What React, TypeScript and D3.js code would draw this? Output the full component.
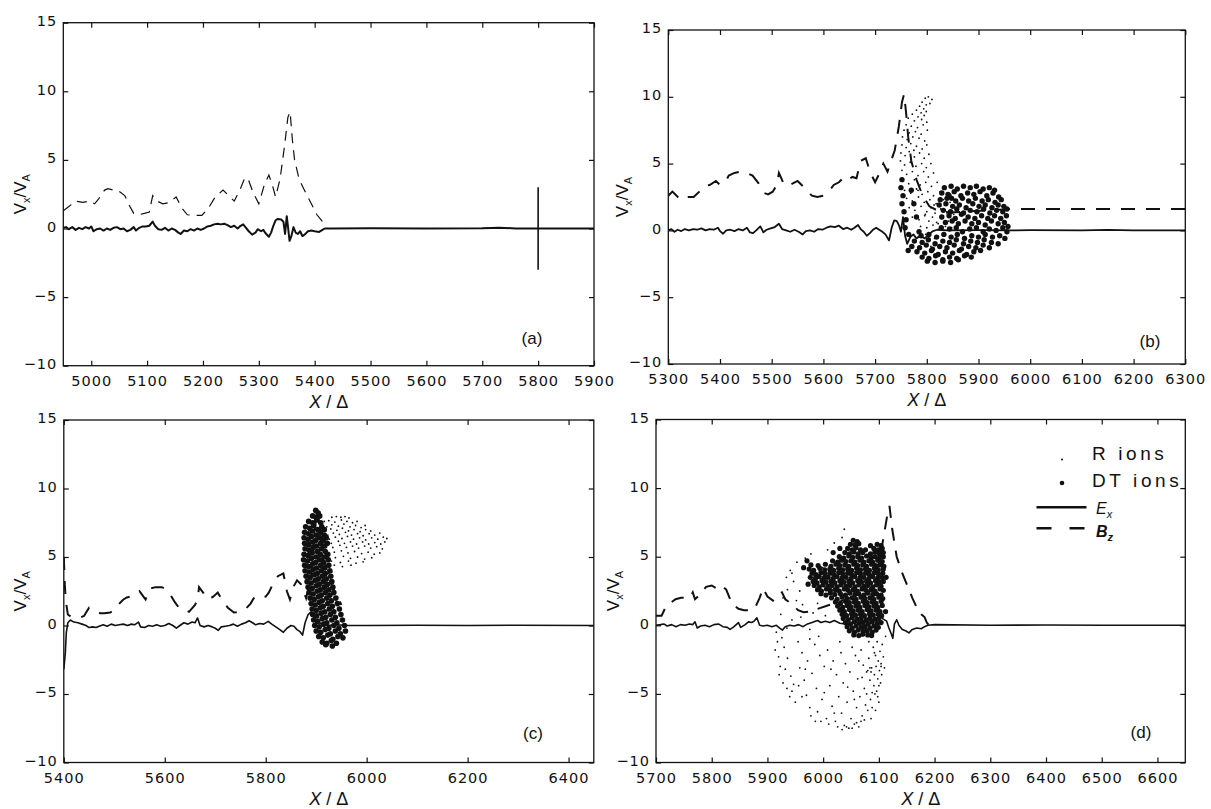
import React, { useEffect, useRef } from 'react';
import * as d3 from 'd3';

type Pt = [number, number];

const W = 1211;
const H = 809;

// ---- ticks ----
const yTicks = [-10, -5, 0, 5, 10, 15];
const xTicksA = [5000, 5100, 5200, 5300, 5400, 5500, 5600, 5700, 5800, 5900];
const xTicksB = [5300, 5400, 5500, 5600, 5700, 5800, 5900, 6000, 6100, 6200, 6300];
const xTicksC = [5400, 5600, 5800, 6000, 6200, 6400];
const xTicksD = [5700, 5800, 5900, 6000, 6100, 6200, 6300, 6400, 6500, 6600];

// ---- panel (a) ----
const exA: Pt[] = [
  [4950, 0.05], [4955, 0.1], [4960, -0.05], [4966, 0.1], [4972, -0.1], [4978, 0.05], [4984, -0.05], [4990, 0.1],
  [4996, 0.0], [5000, 0.15], [5004, -0.2], [5010, -0.05], [5016, 0.0], [5022, -0.15], [5028, 0.0], [5034, -0.1],
  [5040, 0.05], [5046, 0.1], [5052, -0.05], [5058, 0.0], [5064, -0.2], [5070, -0.1], [5076, 0.1], [5080, -0.15],
  [5086, 0.05], [5092, 0.15], [5098, 0.15], [5104, 0.2], [5110, 0.5], [5114, 0.2], [5120, -0.05], [5126, -0.1],
  [5132, 0.05], [5138, -0.15], [5144, 0.0], [5150, -0.1], [5156, -0.3], [5160, -0.4], [5166, -0.15], [5172, -0.2],
  [5178, -0.05], [5184, -0.15], [5190, 0.0], [5196, -0.1], [5202, 0.0], [5208, 0.15], [5214, 0.2], [5220, 0.3],
  [5226, 0.35], [5232, 0.3], [5238, 0.35], [5244, 0.25], [5250, 0.1], [5256, 0.2], [5262, 0.0], [5266, 0.15],
  [5272, 0.3], [5276, 0.1], [5282, -0.2], [5288, -0.45], [5294, -0.3], [5298, -0.05], [5304, -0.2], [5308, -0.1],
  [5312, -0.35], [5318, -0.6], [5322, -0.3], [5326, 0.2], [5330, 0.6], [5334, 0.7], [5340, 0.65], [5344, 0.5],
  [5347, -0.4], [5350, 0.9], [5352, 0.2], [5355, -0.9], [5358, -0.6], [5362, 0.1], [5366, -0.3], [5370, -0.4],
  [5374, -0.2], [5378, -0.55], [5382, -0.45], [5388, -0.2], [5394, -0.15], [5400, -0.2], [5408, -0.25], [5414, -0.1],
  [5418, 0.0], [5430, 0.0], [5500, 0.02], [5600, 0.0], [5700, 0.02], [5730, 0.06], [5760, 0.0], [5900, 0.0],
];
const bzA: Pt[] = [
  [4950, 1.3], [4960, 1.6], [4972, 2.0], [4985, 1.9], [4998, 2.0], [5006, 1.8], [5014, 2.2], [5024, 2.8],
  [5030, 2.9], [5040, 2.8], [5050, 2.7], [5060, 2.4], [5068, 1.7], [5076, 1.1], [5085, 1.0], [5095, 1.1],
  [5104, 1.2], [5110, 2.4], [5118, 2.0], [5128, 1.8], [5140, 1.9], [5152, 2.3], [5162, 1.5], [5172, 1.0],
  [5185, 0.95], [5198, 0.95], [5210, 1.5], [5222, 2.3], [5236, 2.8], [5246, 2.4], [5256, 2.0], [5266, 2.8],
  [5274, 3.6], [5280, 3.7], [5290, 2.6], [5300, 1.8], [5310, 3.2], [5318, 3.9], [5324, 3.2], [5330, 2.3],
  [5338, 3.6], [5346, 6.0], [5352, 8.1], [5356, 8.5], [5360, 6.5], [5364, 5.0], [5372, 3.6], [5384, 2.6],
  [5394, 1.8], [5404, 1.0], [5414, 0.5],
];
const markA: Pt[] = [[5800, -3], [5800, 3]];

// ---- panel (b) ----
const exB: Pt[] = [
  [5300, 0.0], [5306, 0.1], [5312, -0.1], [5318, 0.05], [5325, -0.05], [5332, 0.1], [5340, 0.0], [5348, 0.1],
  [5356, 0.05], [5364, 0.15], [5372, 0.0], [5380, 0.1], [5388, 0.05], [5396, 0.2], [5400, -0.05], [5406, -0.25],
  [5412, 0.0], [5420, 0.05], [5428, -0.05], [5436, 0.1], [5444, 0.0], [5452, 0.2], [5458, -0.15], [5464, -0.2],
  [5470, 0.0], [5478, 0.3], [5484, -0.15], [5490, 0.05], [5498, 0.15], [5506, 0.25], [5514, 0.5], [5520, 0.1],
  [5528, 0.0], [5536, -0.1], [5544, 0.05], [5552, -0.1], [5560, -0.3], [5566, -0.05], [5574, 0.0], [5582, -0.1],
  [5590, 0.1], [5598, 0.05], [5606, 0.2], [5614, 0.3], [5622, 0.25], [5630, 0.35], [5638, 0.1], [5646, 0.2],
  [5654, 0.05], [5660, 0.2], [5667, 0.4], [5672, 0.1], [5678, -0.1], [5684, -0.4], [5690, -0.2], [5696, 0.05],
  [5702, 0.2], [5708, 0.05], [5714, -0.1], [5720, -0.3], [5727, -0.75], [5732, 0.2], [5737, 0.75], [5742, 0.7],
  [5746, 0.4], [5750, -0.1], [5754, 1.0], [5758, -0.4], [5762, -1.0], [5768, -0.5], [5774, -0.3], [5780, -0.6],
  [5788, -0.4], [5796, -0.6], [5804, -0.3], [5812, -0.05], [5820, 0.05], [5840, 0.0], [5900, 0.02], [5960, 0.0],
  [6000, 0.02], [6100, 0.0], [6150, 0.04], [6200, 0.0], [6300, 0.0],
];
const bzB: Pt[] = [
  [5300, 2.6], [5308, 2.9], [5316, 2.6], [5323, 2.3], [5335, 2.5], [5349, 2.5], [5360, 2.9], [5368, 3.3],
  [5380, 3.4], [5392, 3.7], [5400, 3.4], [5410, 3.6], [5417, 4.1], [5428, 4.3], [5440, 4.4], [5452, 4.3],
  [5463, 4.1], [5475, 3.5], [5485, 2.8], [5493, 2.7], [5502, 2.9], [5510, 3.4], [5514, 4.3], [5522, 3.6],
  [5530, 3.3], [5540, 3.5], [5550, 3.7], [5558, 3.4], [5566, 3.0], [5578, 2.6], [5588, 2.5], [5600, 2.6],
  [5610, 2.9], [5620, 3.4], [5630, 3.6], [5640, 4.0], [5648, 3.8], [5656, 4.0], [5664, 3.9], [5672, 5.2],
  [5682, 5.4], [5690, 4.4], [5700, 3.6], [5710, 4.4], [5716, 5.0], [5724, 4.4], [5730, 5.1], [5738, 6.0],
  [5746, 7.8], [5752, 9.6], [5756, 10.2], [5760, 8.8], [5764, 7.0], [5770, 5.2], [5780, 3.8], [5792, 2.6],
  [5805, 1.8], [5830, 1.3], [5870, 1.4], [5920, 1.5], [5960, 1.6], [6000, 1.6], [6100, 1.6], [6200, 1.6], [6300, 1.6],
];
const rIonsB: Pt[] = [
  [5797, 9.9], [5803, 10.0], [5791, 9.6], [5799, 9.4], [5786, 9.3], [5794, 9.1], [5780, 9.0], [5789, 8.8], [5799, 8.9],
  [5772, 8.7], [5783, 8.5], [5795, 8.6], [5764, 8.4], [5776, 8.2], [5790, 8.3], [5800, 8.1], [5760, 7.9], [5770, 7.8],
  [5782, 7.7], [5793, 7.9], [5756, 7.5], [5766, 7.3], [5778, 7.4], [5789, 7.2], [5801, 7.5], [5753, 7.0], [5762, 6.8],
  [5773, 7.0], [5785, 6.9], [5796, 6.7], [5752, 6.4], [5760, 6.2], [5769, 6.5], [5780, 6.3], [5791, 6.1], [5800, 6.4],
  [5750, 5.8], [5758, 5.6], [5766, 5.9], [5776, 5.5], [5786, 5.8], [5795, 5.4], [5804, 5.7], [5749, 5.2], [5757, 4.9],
  [5768, 5.1], [5779, 4.8], [5790, 5.0], [5799, 4.7], [5808, 5.0], [5752, 4.5], [5761, 4.2], [5772, 4.4], [5783, 4.1],
  [5794, 4.4], [5803, 4.0], [5813, 4.3], [5754, 3.7], [5765, 3.5], [5776, 3.8], [5787, 3.4], [5798, 3.6], [5809, 3.3],
  [5820, 3.6], [5757, 3.0], [5769, 2.8], [5780, 3.1], [5791, 2.7], [5802, 2.9], [5813, 2.6], [5826, 2.9], [5761, 2.4],
  [5772, 2.2], [5784, 2.5], [5795, 2.1], [5806, 2.3], [5818, 2.0], [5832, 2.3], [5845, 2.1], [5766, 1.7], [5777, 1.5],
  [5789, 1.8], [5800, 1.4], [5808, 1.7], [5816, 1.3], [5827, 1.6], [5839, 1.4], [5852, 1.2], [5772, 1.0], [5785, 0.8],
  [5796, 1.1], [5804, 0.7], [5811, 1.0], [5819, 0.6], [5829, 0.9], [5842, 0.7], [5857, 0.9], [5788, 0.3], [5800, 0.2],
  [5812, 0.4], [5824, 0.1], [5836, 0.3], [5848, 0.2], [5783, -0.5], [5798, -0.3], [5815, -0.6], [5792, -1.0],
  [5808, -1.2], [5806, 9.5], [5810, 9.8], [5775, 6.0], [5783, 3.0], [5797, 1.2], [5814, 1.9], [5822, 0.5],
];
const dtIonsB: Pt[] = [
  [5834, 3.2], [5847, 3.3], [5859, 3.1], [5871, 3.3], [5884, 3.2], [5896, 3.3], [5909, 3.1], [5921, 3.2], [5931, 3.0],
  [5829, 2.8], [5841, 2.7], [5853, 2.9], [5866, 2.6], [5879, 2.8], [5891, 2.7], [5903, 2.9], [5916, 2.6], [5928, 2.8], [5939, 2.5],
  [5826, 2.3], [5839, 2.4], [5856, 2.2], [5869, 2.4], [5881, 2.2], [5894, 2.4], [5907, 2.2], [5919, 2.3], [5932, 2.1], [5944, 2.3],
  [5824, 1.9], [5837, 2.0], [5850, 1.8], [5863, 1.9], [5876, 1.7], [5889, 2.0], [5901, 1.8], [5913, 1.9], [5926, 1.7], [5938, 1.9], [5949, 1.8],
  [5832, 1.5], [5846, 1.4], [5858, 1.6], [5871, 1.3], [5884, 1.5], [5897, 1.4], [5910, 1.6], [5922, 1.3], [5935, 1.5], [5947, 1.4], [5955, 1.6],
  [5829, 1.0], [5843, 1.1], [5855, 0.9], [5867, 1.2], [5880, 1.0], [5893, 0.9], [5906, 1.1], [5918, 0.9], [5931, 1.1], [5943, 0.9], [5954, 1.1],
  [5836, 0.6], [5849, 0.7], [5861, 0.5], [5874, 0.7], [5887, 0.5], [5900, 0.6], [5913, 0.4], [5925, 0.7], [5938, 0.5], [5950, 0.6], [5957, 0.3],
  [5828, 0.2], [5844, 0.1], [5857, 0.2], [5869, -0.1], [5883, 0.1], [5896, 0.2], [5909, -0.1], [5921, 0.1], [5934, 0.0], [5947, 0.2], [5955, -0.1],
  [5789, -0.4], [5804, -0.3], [5819, -0.5], [5833, -0.3], [5847, -0.5], [5859, -0.3], [5873, -0.6], [5887, -0.4], [5900, -0.5], [5913, -0.3], [5927, -0.5], [5941, -0.4], [5951, -0.6],
  [5776, -0.8], [5791, -0.9], [5803, -0.7], [5816, -1.0], [5831, -0.8], [5844, -0.9], [5857, -0.7], [5871, -1.0], [5885, -0.8], [5898, -0.9], [5911, -0.7], [5925, -0.9], [5938, -1.0],
  [5771, -1.2], [5786, -1.3], [5799, -1.1], [5811, -1.4], [5825, -1.2], [5839, -1.3], [5853, -1.1], [5867, -1.4], [5881, -1.2], [5895, -1.3], [5909, -1.1], [5921, -1.3],
  [5781, -1.6], [5796, -1.7], [5809, -1.5], [5822, -1.8], [5836, -1.6], [5850, -1.7], [5863, -1.5], [5877, -1.8], [5891, -1.6], [5904, -1.5],
  [5791, -2.0], [5804, -2.1], [5817, -1.9], [5831, -2.2], [5844, -2.0], [5858, -2.1], [5873, -1.9], [5886, -2.0],
  [5801, -2.3], [5816, -2.4], [5831, -2.3], [5846, -2.4], [5861, -2.2],
  [5752, 3.8], [5750, 3.2], [5754, 2.6], [5752, 2.0], [5756, 1.4], [5760, 0.8], [5758, 0.2], [5765, -0.3], [5770, 3.0],
  [5775, 2.0], [5780, 1.0], [5785, -0.1], [5764, -1.5], [5843, 2.6], [5848, 2.4],
];

// ---- panel (c) ----
const exC: Pt[] = [
  [5400, -3.2], [5403, -2.0], [5405, -0.5], [5408, 0.2], [5413, 0.4], [5420, 0.25], [5428, 0.2], [5436, 0.1],
  [5444, 0.0], [5450, -0.15], [5457, -0.1], [5464, -0.15], [5470, -0.05], [5478, 0.05], [5486, -0.05], [5494, 0.1],
  [5502, 0.0], [5510, 0.05], [5518, 0.1], [5526, 0.0], [5534, 0.1], [5540, 0.05], [5548, 0.25], [5552, -0.1],
  [5560, -0.15], [5568, 0.0], [5576, -0.05], [5584, 0.05], [5592, -0.05], [5600, 0.0], [5608, 0.15], [5616, 0.0],
  [5623, -0.2], [5630, 0.0], [5638, 0.2], [5646, 0.1], [5654, 0.25], [5660, 0.2], [5665, 0.55], [5670, 0.0],
  [5678, -0.1], [5686, 0.0], [5694, -0.1], [5700, -0.2], [5706, -0.35], [5712, -0.1], [5720, -0.05], [5728, 0.0],
  [5736, 0.1], [5744, -0.05], [5752, 0.1], [5760, 0.2], [5767, 0.35], [5774, 0.2], [5780, 0.05], [5788, 0.15],
  [5796, 0.1], [5805, 0.3], [5812, 0.1], [5820, -0.1], [5828, -0.3], [5835, -0.5], [5842, -0.2], [5850, 0.0],
  [5856, -0.05], [5862, -0.3], [5868, -0.45], [5873, -0.7], [5878, 0.2], [5884, 0.8], [5890, 1.0], [5900, 0.3],
  [5920, 0.0], [5940, 0.05], [5964, 0.0], [6000, 0.0], [6100, 0.02], [6200, 0.0], [6300, 0.02], [6450, 0.0],
];
const bzC: Pt[] = [
  [5400, 5.0], [5401, 4.0], [5402, 3.0], [5404, 1.8], [5408, 0.8], [5414, 0.65], [5422, 0.6], [5430, 0.55],
  [5440, 0.7], [5450, 1.3], [5457, 1.2], [5465, 1.0], [5472, 0.9], [5480, 0.9], [5492, 0.95], [5500, 1.1],
  [5510, 1.6], [5518, 1.9], [5525, 2.05], [5540, 2.2], [5550, 2.5], [5556, 2.2], [5562, 1.9], [5570, 2.7],
  [5582, 2.8], [5594, 2.8], [5605, 2.6], [5612, 2.2], [5620, 1.7], [5630, 1.2], [5640, 1.15], [5648, 1.0],
  [5660, 1.5], [5665, 1.9], [5668, 2.8], [5676, 2.4], [5686, 1.9], [5696, 2.1], [5705, 2.4], [5715, 1.8],
  [5725, 1.3], [5737, 0.95], [5748, 1.0], [5760, 1.2], [5770, 1.6], [5778, 2.1], [5790, 2.2], [5800, 2.1],
  [5806, 2.4], [5814, 3.0], [5824, 3.6], [5835, 3.8], [5842, 2.5], [5848, 1.9], [5856, 2.9], [5862, 3.3],
  [5870, 3.0], [5880, 2.0], [5890, 3.5], [5896, 6.5], [5902, 8.6], [5906, 7.5], [5912, 5.0], [5930, 3.0], [5950, 1.5],
];
const rIonsC: Pt[] = [
  [5931, 7.9], [5940, 7.95], [5949, 7.9], [5957, 7.95], [5965, 7.85],
  [5916, 7.6], [5925, 7.65], [5937, 7.55], [5950, 7.7], [5961, 7.6], [5972, 7.5], [5981, 7.6],
  [5910, 7.3], [5921, 7.2], [5931, 7.35], [5944, 7.25], [5955, 7.4], [5967, 7.2], [5978, 7.3], [5989, 7.15], [5997, 7.3],
  [5908, 7.0], [5919, 6.9], [5929, 7.05], [5941, 6.95], [5952, 7.1], [5964, 6.9], [5975, 7.0], [5987, 6.85], [5998, 7.0], [6008, 6.9],
  [5911, 6.7], [5923, 6.6], [5934, 6.75], [5946, 6.65], [5958, 6.8], [5970, 6.6], [5982, 6.7], [5993, 6.55], [6005, 6.7], [6016, 6.6], [6026, 6.75],
  [5913, 6.4], [5926, 6.3], [5938, 6.45], [5951, 6.35], [5962, 6.5], [5974, 6.3], [5986, 6.4], [5998, 6.25], [6010, 6.4], [6022, 6.3], [6033, 6.45], [6040, 6.35],
  [5915, 6.1], [5930, 6.0], [5944, 6.15], [5956, 6.0], [5968, 6.1], [5980, 5.95], [5992, 6.1], [6004, 5.95], [6016, 6.05], [6028, 5.95], [6036, 6.1],
  [5918, 5.8], [5933, 5.7], [5947, 5.85], [5960, 5.7], [5972, 5.8], [5984, 5.65], [5996, 5.8], [6008, 5.65], [6020, 5.75], [6031, 5.6],
  [5921, 5.4], [5936, 5.35], [5950, 5.45], [5963, 5.3], [5976, 5.4], [5990, 5.25], [6003, 5.35], [6015, 5.2], [6026, 5.3],
  [5923, 5.0], [5938, 4.95], [5954, 5.05], [5968, 4.9], [5982, 5.0], [5996, 4.85], [6010, 4.95],
  [5930, 4.7], [5948, 4.6], [5964, 4.7], [5979, 4.55], [5993, 4.65],
  [5936, 4.4], [5952, 4.3], [5969, 4.4], [5925, 3.8], [5931, 3.9], [5922, 3.4], [5928, 3.6],
];
const dtIonsC: Pt[] = [
  [5899, 8.4], [5904, 8.2],
  [5893, 8.0], [5900, 7.9], [5907, 8.0],
  [5885, 7.6], [5893, 7.5], [5901, 7.7], [5909, 7.5],
  [5879, 7.2], [5887, 7.1], [5895, 7.3], [5903, 7.0], [5911, 7.2], [5916, 7.0],
  [5877, 6.8], [5885, 6.7], [5893, 6.9], [5900, 6.6], [5908, 6.8], [5916, 6.6],
  [5876, 6.4], [5884, 6.3], [5891, 6.5], [5899, 6.2], [5907, 6.4], [5914, 6.2], [5920, 6.4],
  [5877, 6.0], [5885, 5.9], [5893, 6.1], [5901, 5.8], [5909, 6.0], [5917, 5.8], [5922, 6.0],
  [5878, 5.6], [5886, 5.5], [5894, 5.7], [5902, 5.4], [5910, 5.6], [5918, 5.4],
  [5876, 5.2], [5884, 5.1], [5892, 5.3], [5900, 5.0], [5908, 5.2], [5916, 5.0], [5923, 5.2],
  [5875, 4.8], [5883, 4.7], [5891, 4.9], [5899, 4.6], [5907, 4.8], [5915, 4.6], [5924, 4.8],
  [5877, 4.4], [5885, 4.3], [5893, 4.5], [5901, 4.2], [5909, 4.4], [5917, 4.2], [5925, 4.4],
  [5878, 4.0], [5886, 3.9], [5894, 4.1], [5902, 3.8], [5910, 4.0], [5918, 3.8], [5927, 4.0],
  [5880, 3.6], [5888, 3.5], [5896, 3.7], [5904, 3.4], [5912, 3.6], [5920, 3.4], [5929, 3.6],
  [5882, 3.2], [5890, 3.1], [5898, 3.3], [5906, 3.0], [5914, 3.2], [5922, 3.0], [5931, 3.2],
  [5884, 2.8], [5892, 2.7], [5900, 2.9], [5908, 2.6], [5916, 2.8], [5925, 2.6], [5933, 2.8],
  [5886, 2.4], [5894, 2.3], [5902, 2.5], [5910, 2.2], [5918, 2.4], [5927, 2.2], [5935, 2.4],
  [5888, 2.0], [5896, 1.9], [5904, 2.1], [5912, 1.8], [5921, 2.0], [5930, 1.8], [5939, 2.0],
  [5890, 1.6], [5898, 1.5], [5906, 1.7], [5914, 1.4], [5923, 1.6], [5932, 1.4], [5942, 1.6],
  [5892, 1.2], [5900, 1.1], [5908, 1.3], [5917, 1.0], [5926, 1.2], [5935, 1.0], [5946, 1.2],
  [5893, 0.8], [5901, 0.7], [5910, 0.9], [5919, 0.6], [5928, 0.8], [5938, 0.6], [5949, 0.8],
  [5895, 0.4], [5903, 0.3], [5912, 0.5], [5921, 0.2], [5931, 0.4], [5941, 0.2], [5952, 0.4],
  [5897, 0.0], [5906, -0.1], [5915, 0.1], [5925, -0.2], [5935, 0.0], [5945, -0.2], [5956, 0.0],
  [5900, -0.4], [5909, -0.5], [5918, -0.3], [5928, -0.6], [5938, -0.4], [5948, -0.6], [5958, -0.4],
  [5905, -0.8], [5914, -0.9], [5923, -0.7], [5933, -1.0], [5943, -0.8], [5953, -0.9],
  [5912, -1.2], [5921, -1.3], [5930, -1.1], [5940, -1.3], [5919, -1.4], [5932, -1.5],
];

// ---- panel (d) ----
const exD: Pt[] = [
  [5700, 0.0], [5708, 0.05], [5714, 0.1], [5720, -0.05], [5728, 0.05], [5736, -0.1], [5744, 0.05], [5752, 0.0],
  [5760, 0.1], [5766, 0.05], [5770, 0.25], [5774, -0.2], [5780, -0.05], [5788, 0.0], [5796, -0.1], [5804, 0.05],
  [5812, 0.1], [5820, -0.1], [5828, -0.15], [5833, -0.3], [5840, -0.1], [5848, 0.2], [5852, -0.15], [5860, 0.05],
  [5866, 0.25], [5872, 0.2], [5876, 0.3], [5881, 0.55], [5886, 0.0], [5892, -0.05], [5900, 0.0], [5908, -0.1],
  [5916, 0.0], [5922, -0.2], [5927, -0.35], [5932, -0.1], [5940, 0.0], [5948, -0.05], [5956, 0.05], [5964, -0.1],
  [5972, 0.1], [5980, 0.2], [5986, 0.3], [5990, 0.35], [5996, 0.2], [6004, 0.3], [6012, 0.2], [6020, 0.35],
  [6030, 0.15], [6040, 0.1], [6060, 0.2], [6080, 0.3], [6095, 0.5], [6103, 0.65], [6108, 0.45], [6114, 0.3],
  [6118, -0.2], [6122, -0.6], [6125, -0.95], [6128, 0.1], [6132, 0.4], [6136, 0.0], [6142, -0.3], [6148, -0.4],
  [6154, -0.55], [6160, -0.3], [6168, -0.2], [6176, -0.25], [6182, -0.1], [6188, 0.0], [6200, 0.05], [6300, 0.0],
  [6400, 0.02], [6500, 0.0], [6650, 0.0],
];
const bzD: Pt[] = [
  [5700, 0.7], [5710, 0.7], [5717, 1.3], [5725, 1.6], [5735, 1.9], [5745, 2.0], [5755, 2.0], [5762, 2.1],
  [5766, 2.4], [5770, 1.9], [5780, 2.3], [5790, 2.8], [5800, 2.9], [5808, 2.7], [5818, 2.9], [5826, 2.6],
  [5836, 1.6], [5848, 1.2], [5858, 1.1], [5868, 1.1], [5878, 1.3], [5886, 2.0], [5892, 2.7], [5900, 2.1],
  [5910, 1.8], [5920, 2.2], [5926, 2.4], [5932, 1.9], [5945, 1.5], [5955, 1.1], [5965, 0.95], [5975, 1.0],
  [6050, 2.0], [6080, 3.0], [6098, 4.2], [6108, 6.3], [6115, 8.0], [6119, 8.7], [6124, 7.0], [6132, 5.0],
  [6142, 3.8], [6152, 2.8], [6160, 2.0], [6168, 1.3], [6176, 0.8], [6182, 0.6], [6186, 0.2], [6190, 0.0],
];
const rIonsD: Pt[] = [
  [5924, 0.8], [5928, 2.0], [5934, 3.5], [5941, 4.0], [5947, 3.2], [5953, 4.6], [5958, 2.5], [5963, 1.5], [5968, 4.9],
  [5974, 3.0], [5984, 3.6], [5990, 1.6], [5999, 4.2], [6008, 5.5], [6014, 3.2], [6020, 6.0], [6026, 4.6], [6034, 6.4],
  [6038, 7.0], [6045, 5.2], [5944, 3.8], [5936, 2.6], [5952, 1.8], [5978, 5.2], [5960, 0.6], [5982, 0.9], [6004, 0.7], [6012, 2.3],
  [5916, -0.5], [5918, -1.2], [5914, -1.8], [5920, -2.3], [5923, -3.0], [5921, -3.6], [5928, -4.2], [5935, -4.6],
  [5940, -5.2], [5944, -4.8], [5950, -5.6], [5947, -4.3], [5926, -0.9], [5930, -1.6], [5936, -2.4], [5932, -3.2], [5942, -3.7],
  [5955, -1.2], [5962, -2.0], [5958, -3.1], [5966, -4.0], [5970, -5.1], [5976, -6.0], [5972, -2.6], [5980, -3.5],
  [5985, -1.4], [5988, -4.6], [5990, -6.3], [5994, -2.2], [5998, -5.4], [6002, -3.0], [6006, -6.8], [6008, -1.8],
  [6012, -4.4], [6016, -5.9], [6018, -2.6], [6022, -7.0], [6024, -3.6], [6028, -5.2], [6030, -1.2], [6033, -6.4],
  [6036, -4.2], [6038, -7.3], [6040, -2.8], [6043, -5.6], [6046, -7.5], [6048, -3.4], [6050, -6.8], [6052, -1.6],
  [6054, -4.8], [6056, -7.2], [6058, -2.2], [6060, -6.0], [6062, -3.9], [6064, -7.4], [6066, -5.2], [6068, -1.8],
  [6070, -6.6], [6072, -2.9], [6074, -4.6], [6076, -5.8], [6078, -3.4], [6080, -6.2], [6082, -2.4], [6084, -4.0],
  [6085, -5.4], [6087, -3.1], [6088, -6.0], [6090, -1.6], [6091, -4.4], [6092, -3.6], [6093, -5.0], [6094, -2.2],
  [6095, -3.0], [6096, -4.8], [6097, -1.2], [6098, -3.9], [6099, -2.6], [6100, -5.6], [6101, -3.3], [6102, -1.9],
  [6103, -4.2], [6104, -2.8], [6105, -3.6], [6106, -1.4], [6108, -2.3], [6110, -3.1], [6112, -0.8],
  [5996, -7.0], [6010, -7.2], [6026, -7.4], [6034, -7.6], [6042, -7.4], [6052, -7.5], [6060, -7.1], [6068, -7.0], [6074, -6.9],
  [5962, -5.2], [5978, -6.6], [5986, -7.0], [5968, -3.2], [5956, -4.4], [5976, -1.0], [5992, -0.8], [6002, -4.9],
  [6014, -3.2], [6020, -6.4], [6032, -2.0], [6044, -4.5], [6056, -5.4], [6064, -2.6], [6070, -3.8], [6078, -5.0],
  [6086, -6.8], [6082, -1.2], [6094, -6.2], [6100, -4.4], [6088, -4.9], [6092, -2.0], [6098, -5.2], [6104, -3.0],
  [6080, -3.3], [6084, -3.1], [6086, -3.4], [5976, -0.3], [5944, 0.4], [5935, -0.2],
];
const dtIonsD: Pt[] = [
  [6054, 6.2], [6061, 6.1],
  [6049, 5.9], [6057, 5.85], [6064, 5.95], [6097, 5.9], [6104, 5.8],
  [6044, 5.6], [6052, 5.5], [6059, 5.65], [6067, 5.5], [6091, 5.6], [6099, 5.5], [6106, 5.6],
  [6039, 5.3], [6047, 5.2], [6055, 5.35], [6063, 5.2], [6071, 5.3], [6085, 5.2], [6093, 5.35], [6101, 5.2], [6108, 5.3],
  [6029, 5.0], [6037, 4.9], [6046, 5.05], [6053, 4.95], [6062, 5.0], [6069, 4.9], [6078, 5.05], [6086, 4.9], [6093, 5.0], [6101, 4.9], [6108, 5.0],
  [6017, 4.7], [6026, 4.6], [6033, 4.75], [6041, 4.65], [6050, 4.7], [6057, 4.6], [6066, 4.75], [6073, 4.6], [6082, 4.7], [6089, 4.6], [6098, 4.75], [6106, 4.65],
  [5978, 4.4], [5991, 4.35], [6004, 4.45], [6014, 4.3], [6023, 4.45], [6030, 4.35], [6039, 4.4], [6046, 4.3], [6055, 4.45], [6062, 4.35], [6071, 4.4], [6078, 4.3], [6087, 4.45], [6094, 4.35], [6103, 4.4], [6109, 4.3],
  [5975, 4.1], [5983, 4.0], [5994, 4.15], [6003, 4.05], [6012, 4.1], [6019, 4.0], [6028, 4.15], [6035, 4.05], [6044, 4.1], [6051, 4.0], [6060, 4.15], [6067, 4.05], [6076, 4.1], [6083, 4.0], [6092, 4.15], [6099, 4.05], [6108, 4.1],
  [5980, 3.8], [5987, 3.7], [5996, 3.85], [6003, 3.75], [6012, 3.8], [6019, 3.7], [6028, 3.85], [6035, 3.75], [6044, 3.8], [6051, 3.7], [6060, 3.85], [6067, 3.75], [6076, 3.8], [6083, 3.7], [6092, 3.85], [6099, 3.75], [6107, 3.8],
  [5977, 3.5], [5986, 3.4], [5993, 3.55], [6002, 3.45], [6009, 3.5], [6018, 3.4], [6025, 3.55], [6034, 3.45], [6041, 3.5], [6050, 3.4], [6057, 3.55], [6066, 3.45], [6073, 3.5], [6082, 3.4], [6089, 3.55], [6098, 3.45], [6105, 3.5],
  [5982, 3.2], [5989, 3.1], [5998, 3.25], [6005, 3.15], [6014, 3.2], [6021, 3.1], [6030, 3.25], [6037, 3.15], [6046, 3.2], [6053, 3.1], [6062, 3.25], [6069, 3.15], [6078, 3.2], [6085, 3.1], [6094, 3.25], [6101, 3.15], [6108, 3.2],
  [5984, 2.9], [5993, 2.8], [6000, 2.95], [6009, 2.85], [6016, 2.9], [6025, 2.8], [6032, 2.95], [6041, 2.85], [6048, 2.9], [6057, 2.8], [6064, 2.95], [6073, 2.85], [6080, 2.9], [6089, 2.8], [6096, 2.95], [6104, 2.85],
  [5990, 2.6], [5997, 2.5], [6006, 2.65], [6013, 2.55], [6022, 2.6], [6029, 2.5], [6038, 2.65], [6045, 2.55], [6054, 2.6], [6061, 2.5], [6070, 2.65], [6077, 2.55], [6086, 2.6], [6093, 2.5], [6102, 2.65], [6108, 2.55],
  [5996, 2.3], [6005, 2.2], [6013, 2.35], [6021, 2.25], [6031, 2.3], [6040, 2.2], [6048, 2.35], [6057, 2.25], [6064, 2.3], [6073, 2.2], [6080, 2.35], [6089, 2.25], [6096, 2.3], [6104, 2.2],
  [6015, 2.0], [6025, 1.9], [6034, 2.05], [6043, 1.95], [6052, 2.0], [6059, 1.9], [6068, 2.05], [6075, 1.95], [6084, 2.0], [6091, 1.9], [6100, 2.05], [6107, 1.95],
  [6022, 1.7], [6031, 1.6], [6040, 1.75], [6047, 1.65], [6056, 1.7], [6063, 1.6], [6072, 1.75], [6079, 1.65], [6088, 1.7], [6095, 1.6], [6104, 1.75],
  [6026, 1.4], [6035, 1.3], [6043, 1.45], [6050, 1.35], [6059, 1.4], [6066, 1.3], [6075, 1.45], [6082, 1.35], [6091, 1.4], [6098, 1.3], [6106, 1.45],
  [6030, 1.1], [6038, 1.0], [6047, 1.15], [6054, 1.05], [6063, 1.1], [6070, 1.0], [6079, 1.15], [6086, 1.05], [6095, 1.1], [6102, 1.0],
  [6034, 0.8], [6042, 0.7], [6051, 0.85], [6058, 0.75], [6067, 0.8], [6074, 0.7], [6083, 0.85], [6090, 0.75], [6099, 0.8], [6105, 0.7],
  [6036, 0.5], [6045, 0.4], [6052, 0.55], [6061, 0.45], [6068, 0.5], [6077, 0.4], [6084, 0.55], [6093, 0.45], [6100, 0.5],
  [6040, 0.2], [6049, 0.1], [6056, 0.25], [6065, 0.15], [6072, 0.2], [6081, 0.1], [6088, 0.25], [6097, 0.15], [6104, 0.2],
  [6043, -0.1], [6052, -0.2], [6059, -0.05], [6068, -0.15], [6075, -0.1], [6084, -0.2], [6091, -0.05], [6099, -0.15],
  [6047, -0.4], [6056, -0.5], [6063, -0.35], [6072, -0.45], [6079, -0.4], [6088, -0.5], [6095, -0.35],
  [6055, -0.7], [6064, -0.75], [6071, -0.65], [6080, -0.7], [6087, -0.75],
  [5971, 4.7], [5973, 3.0], [5965, 4.2], [6030, 5.6], [6018, 5.3], [6085, 5.8], [6076, 5.5], [6112, 1.0], [6113, 3.5],
];

const panels = [
  { key: 'a', tag: '(a)', xDomain: [4950, 5900], xTicks: xTicksA, ex: exA, bz: bzA, mark: markA, rIons: [] as Pt[], dtIons: [] as Pt[] },
  { key: 'b', tag: '(b)', xDomain: [5300, 6300], xTicks: xTicksB, ex: exB, bz: bzB, mark: [] as Pt[], rIons: rIonsB, dtIons: dtIonsB },
  { key: 'c', tag: '(c)', xDomain: [5400, 6450], xTicks: xTicksC, ex: exC, bz: bzC, mark: [] as Pt[], rIons: rIonsC, dtIons: dtIonsC },
  { key: 'd', tag: '(d)', xDomain: [5700, 6650], xTicks: xTicksD, ex: exD, bz: bzD, mark: [] as Pt[], rIons: rIonsD, dtIons: dtIonsD },
];

// pixel layout of each panel box (kept apart from the data)
const layout: Record<string, any> = {
  a: { l: 63.3, r: 594, t: 22.7, b: 365.7, tagX: 532, tagY: 344, yLabX: 20, ex: 2, bz: 1.2, dash: '10,7', dtR: 2.4 },
  b: { l: 668.3, r: 1185.3, t: 30, b: 364, tagX: 1150, tagY: 347, yLabX: 622, ex: 1.8, bz: 2, dash: '14,11', dtR: 2.7 },
  c: { l: 63.8, r: 593.8, t: 420, b: 762.5, tagX: 533, tagY: 739, yLabX: 20, ex: 1.6, bz: 2, dash: '13,11', dtR: 2.8 },
  d: { l: 656, r: 1185.3, t: 419.5, b: 762.5, tagX: 1141, tagY: 738, yLabX: 613, ex: 1.6, bz: 2, dash: '13,10', dtR: 2.6 },
};

const TICK_FONT = '"DejaVu Sans", sans-serif';
const LABEL_FONT = '"Liberation Sans", Arial, sans-serif';

const App = () => {
  const svgRef = useRef<SVGSVGElement>(null);

  const drawPanel = (svg: any, p: any) => {
    const box = layout[p.key];
    const x = d3.scaleLinear().domain(p.xDomain).range([box.l, box.r]);
    const y = d3.scaleLinear().domain([-10, 15]).range([box.b, box.t]);

    const g = svg.append('g');
    const clipId = 'clip-' + p.key;
    g.append('clipPath').attr('id', clipId)
      .append('rect')
      .attr('x', box.l).attr('y', box.t)
      .attr('width', box.r - box.l).attr('height', box.b - box.t);

    const plot = g.append('g').attr('clip-path', `url(#${clipId})`);
    const line = d3.line<Pt>().x(d => x(d[0])).y(d => y(d[1]));

    plot.append('path')
      .datum(p.ex)
      .attr('d', line)
      .attr('fill', 'none')
      .attr('stroke', '#111')
      .attr('stroke-width', box.ex)
      .attr('stroke-linejoin', 'round');

    plot.append('path')
      .datum(p.bz)
      .attr('d', line)
      .attr('fill', 'none')
      .attr('stroke', '#111')
      .attr('stroke-width', box.bz)
      .attr('stroke-dasharray', box.dash);

    if (p.mark.length) {
      plot.append('path')
        .datum(p.mark)
        .attr('d', line)
        .attr('fill', 'none')
        .attr('stroke', '#111')
        .attr('stroke-width', 1.6);
    }

    plot.selectAll('.r-ion')
      .data(p.rIons)
      .enter()
      .append('circle')
      .attr('class', 'r-ion')
      .attr('cx', (d: Pt) => x(d[0]))
      .attr('cy', (d: Pt) => y(d[1]))
      .attr('r', 0.9)
      .attr('fill', '#111');

    plot.selectAll('.dt-ion')
      .data(p.dtIons)
      .enter()
      .append('circle')
      .attr('class', 'dt-ion')
      .attr('cx', (d: Pt) => x(d[0]))
      .attr('cy', (d: Pt) => y(d[1]))
      .attr('r', box.dtR)
      .attr('fill', '#111');

    // box
    g.append('rect')
      .attr('x', box.l).attr('y', box.t)
      .attr('width', box.r - box.l).attr('height', box.b - box.t)
      .attr('fill', 'none')
      .attr('stroke', '#111')
      .attr('stroke-width', 1.3);

    const styleAxis = (ax: any) => {
      ax.select('.domain').remove();
      ax.selectAll('line').attr('stroke', '#111').attr('stroke-width', 1.2);
      ax.selectAll('text')
        .attr('fill', '#111')
        .attr('font-family', TICK_FONT)
        .attr('font-size', 14.5)
        .attr('letter-spacing', 1);
    };

    const fmt = d3.format('d');
    g.append('g')
      .attr('transform', `translate(0,${box.b})`)
      .call(d3.axisBottom(x).tickValues(p.xTicks).tickSize(-5).tickPadding(10).tickFormat(fmt))
      .call(styleAxis);
    g.append('g')
      .attr('transform', `translate(0,${box.t})`)
      .call(d3.axisTop(x).tickValues(p.xTicks).tickSize(-5).tickFormat(() => ''))
      .call(styleAxis);
    const yAx = g.append('g')
      .attr('transform', `translate(${box.l},0)`)
      .call(d3.axisLeft(y).tickValues(yTicks).tickSize(-5).tickPadding(6).tickFormat(fmt))
      .call(styleAxis);
    // sit the y labels a touch above their ticks, as in the original
    yAx.selectAll('text').attr('dy', '0.2em');
    g.append('g')
      .attr('transform', `translate(${box.r},0)`)
      .call(d3.axisRight(y).tickValues(yTicks).tickSize(-5).tickFormat(() => ''))
      .call(styleAxis);

    // x title
    const xt = g.append('text')
      .attr('x', (box.l + box.r) / 2)
      .attr('y', box.b + 42)
      .attr('text-anchor', 'middle')
      .attr('font-family', LABEL_FONT)
      .attr('font-size', 18)
      .attr('fill', '#111');
    xt.append('tspan').attr('font-style', 'italic').text('X');
    xt.append('tspan').text(' / Δ');

    // y title
    const yt = g.append('text')
      .attr('transform', `translate(${box.yLabX + 6},${(box.t + box.b) / 2}) rotate(-90)`)
      .attr('text-anchor', 'middle')
      .attr('font-family', LABEL_FONT)
      .attr('font-size', 17)
      .attr('fill', '#111');
    yt.append('tspan').text('V');
    yt.append('tspan').attr('font-size', 11).attr('dy', 4).text('x');
    yt.append('tspan').attr('dy', -4).text('/V');
    yt.append('tspan').attr('font-size', 11).attr('dy', 4).text('A');

    g.append('text')
      .attr('x', box.tagX)
      .attr('y', box.tagY)
      .attr('text-anchor', 'middle')
      .attr('font-family', LABEL_FONT)
      .attr('font-size', 17)
      .attr('fill', '#111')
      .text(p.tag);
  };

  const drawLegend = (svg: any) => {
    const lg = svg.append('g').attr('fill', '#111');
    lg.append('circle').attr('cx', 1062).attr('cy', 459.5).attr('r', 1);
    lg.append('circle').attr('cx', 1062).attr('cy', 483).attr('r', 2.3);
    lg.append('text')
      .attr('x', 1092).attr('y', 459.5)
      .attr('font-family', LABEL_FONT).attr('font-size', 19).attr('letter-spacing', 3.6)
      .text('R ions');
    lg.append('text')
      .attr('x', 1092).attr('y', 486.5)
      .attr('font-family', LABEL_FONT).attr('font-size', 19).attr('letter-spacing', 3.6)
      .text('DT ions');
    lg.append('line')
      .attr('x1', 1036.5).attr('x2', 1086.5).attr('y1', 507.3).attr('y2', 507.3)
      .attr('stroke', '#111').attr('stroke-width', 2.6);
    lg.append('line')
      .attr('x1', 1036.5).attr('x2', 1086.5).attr('y1', 528.3).attr('y2', 528.3)
      .attr('stroke', '#111').attr('stroke-width', 2.6).attr('stroke-dasharray', '15,18');
    const e = lg.append('text').attr('x', 1096).attr('y', 514)
      .attr('font-family', LABEL_FONT).attr('font-size', 16).attr('font-style', 'italic');
    e.append('tspan').text('E');
    e.append('tspan').attr('font-size', 11).attr('dy', 4).text('x');
    const b = lg.append('text').attr('x', 1096).attr('y', 536.5)
      .attr('font-family', LABEL_FONT).attr('font-size', 16).attr('font-style', 'italic').attr('font-weight', 'bold');
    b.append('tspan').text('B');
    b.append('tspan').attr('font-size', 11).attr('dy', 4).text('z');
  };

  useEffect(() => {
    document.body.style.margin = '0';
    const svg = d3.select(svgRef.current);
    svg.selectAll('*').remove();
    panels.forEach(p => drawPanel(svg, p));
    drawLegend(svg);
  }, []);

  return (
    <svg
      ref={svgRef}
      width={W}
      height={H}
      style={{ display: 'block', background: '#ffffff' }}
    ></svg>
  );
};

export default App;
